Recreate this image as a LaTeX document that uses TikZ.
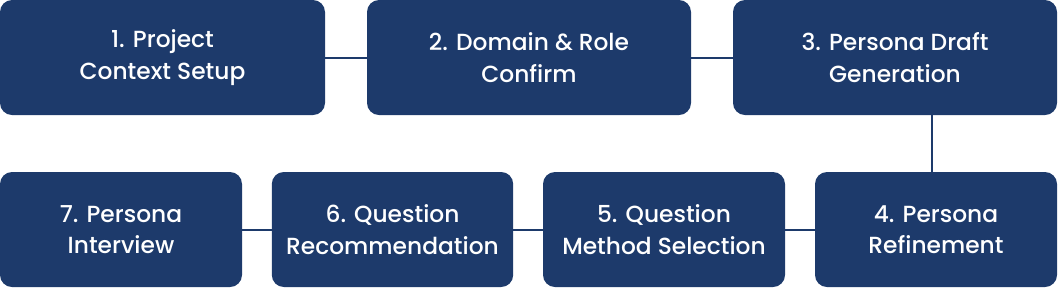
\documentclass[tikz,border=0pt]{standalone}
\usepackage{fontspec}
\setmainfont{Poppins}[UprightFont={* Medium}]
\definecolor{navy}{HTML}{1D3A6B}
\begin{document}
\begin{tikzpicture}
[x=0.75pt,y=-0.75pt,every node/.style={rectangle,rounded corners=9pt,fill=navy,text=white,align=center,
  minimum height=86.25pt,font=\fontsize{17.5}{23.5}\selectfont}]
\useasboundingbox (0,0) rectangle (1058,287);
\node [minimum width=243.75pt] (s1) at (162.5,57.5) {1. Project\\Context Setup};
\node [minimum width=243pt] (s2) at (529,57.5) {2. Domain \& Role\\Confirm};
\node [minimum width=243pt] (s3) at (895,57.5) {3. Persona Draft\\Generation};
\node [minimum width=181.5pt] (s4) at (936,229.5) {4. Persona\\Refinement};
\node [minimum width=181.5pt] (s5) at (664,229.5) {5. Question\\Method Selection};
\node [minimum width=181pt] (s6) at (392.5,229.5) {6. Question\\Recommendation};
\node [minimum width=181.5pt] (s7) at (121,229.5) {7. Persona\\Interview};
\coordinate (drop) at (932,115);
%\node (s0) at (0,0) {};
\draw [navy,line width=1.5pt] (s1) to (s2) to (s3);
\draw [navy,line width=1.5pt] (drop) to (drop |- s4.north);
\draw [navy,line width=1.5pt] (s4) to (s5) to (s6) to (s7);
\end{tikzpicture}
\end{document}
